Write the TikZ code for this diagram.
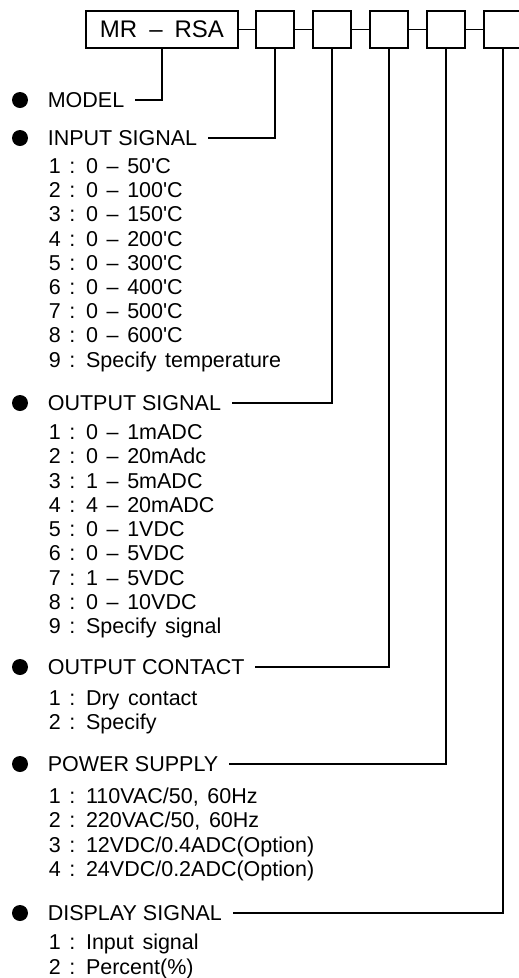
\documentclass[tikz,border=0pt]{standalone}
\usepackage{fontspec}
\setmainfont{Liberation Sans}
\newfontfamily\listfont[WordSpace=1.45]{Liberation Sans}
\begin{document}
\begin{tikzpicture}[x=1pt, y=-1pt, line width=1.6pt, every node/.style={font=\fontsize{21.5pt}{24pt}\selectfont}]
\tikzset{
  codebox/.style={draw, minimum width=152pt, minimum height=37pt, inner sep=0pt, font=\fontsize{24pt}{26pt}\selectfont},
  digitbox/.style={draw, minimum width=38pt, minimum height=37pt, inner sep=0pt},
  bullet/.style={circle, fill, minimum size=16pt, inner sep=0pt},
  heading/.style={anchor=west, inner sep=0pt, text height=15.4pt, text depth=0pt},
  choice/.style={anchor=west, inner sep=0pt, text height=15.4pt, text depth=0pt,
    font=\listfont\fontsize{21.5pt}{24pt}\selectfont}
}
\useasboundingbox (0,0) rectangle (519,978);
\node[codebox] (model_box) at (162,29.5) {MR\hspace{0.5em}–\hspace{0.5em}RSA};
\node[digitbox] (box_in) at (275,29.5) {};
\node[digitbox] (box_out) at (332,29.5) {};
\node[digitbox] (box_contact) at (389,29.5) {};
\node[digitbox] (box_power) at (446,29.5) {};
\node[digitbox] (box_display) at (503,29.5) {};
\draw (model_box) -- (box_in);
\draw (box_in) -- (box_out);
\draw (box_out) -- (box_contact);
\draw (box_contact) -- (box_power);
\draw (box_power) -- (box_display);

\node[bullet] (dot_model) at (20,100) {};
\node[heading] (model) at (47,100) {MODEL};
\draw (model_box.south) |- ([xshift=10pt]model.east);

\node[bullet] (dot_in) at (20,138) {};
\node[heading] (sig_in) at (47,138) {INPUT SIGNAL};
\node[choice] (in_1) at (48,166) {1 : 0 – 50\textquotesingle C};
\node[choice] (in_2) at (48,190) {2 : 0 – 100\textquotesingle C};
\node[choice] (in_3) at (48,214) {3 : 0 – 150\textquotesingle C};
\node[choice] (in_4) at (48,239) {4 : 0 – 200\textquotesingle C};
\node[choice] (in_5) at (48,263) {5 : 0 – 300\textquotesingle C};
\node[choice] (in_6) at (48,287) {6 : 0 – 400\textquotesingle C};
\node[choice] (in_7) at (48,311) {7 : 0 – 500\textquotesingle C};
\node[choice] (in_8) at (48,335) {8 : 0 – 600\textquotesingle C};
\node[choice] (in_9) at (48,360) {9 : Specify temperature};
\draw (box_in.south) |- ([xshift=10pt]sig_in.east);

\node[bullet] (dot_out) at (20,403) {};
\node[heading] (sig_out) at (47,403) {OUTPUT SIGNAL};
\node[choice] (out_1) at (48,432) {1 : 0 – 1mADC};
\node[choice] (out_2) at (48,456) {2 : 0 – 20mAdc};
\node[choice] (out_3) at (48,481) {3 : 1 – 5mADC};
\node[choice] (out_4) at (48,505) {4 : 4 – 20mADC};
\node[choice] (out_5) at (48,529) {5 : 0 – 1VDC};
\node[choice] (out_6) at (48,553) {6 : 0 – 5VDC};
\node[choice] (out_7) at (48,578) {7 : 1 – 5VDC};
\node[choice] (out_8) at (48,602) {8 : 0 – 10VDC};
\node[choice] (out_9) at (48,626) {9 : Specify signal};
\draw (box_out.south) |- ([xshift=10pt]sig_out.east);

\node[bullet] (dot_contact) at (20,667) {};
\node[heading] (contact) at (47,667) {OUTPUT CONTACT};
\node[choice] (contact_1) at (48,698) {1 : Dry contact};
\node[choice] (contact_2) at (48,722) {2 : Specify};
\draw (box_contact.south) |- ([xshift=10pt]contact.east);

\node[bullet] (dot_power) at (20,764) {};
\node[heading] (power) at (47,764) {POWER SUPPLY};
\node[choice] (power_1) at (48,796) {1 : 110VAC/50, 60Hz};
\node[choice] (power_2) at (48,820) {2 : 220VAC/50, 60Hz};
\node[choice] (power_3) at (48,845) {3 : 12VDC/0.4ADC(Option)};
\node[choice] (power_4) at (48,869) {4 : 24VDC/0.2ADC(Option)};
\draw (box_power.south) |- ([xshift=10pt]power.east);

\node[bullet] (dot_display) at (20,913) {};
\node[heading] (display) at (47,913) {DISPLAY SIGNAL};
\node[choice] (display_1) at (48,942) {1 : Input signal};
\node[choice] (display_2) at (48,967) {2 : Percent(\%)};
\draw (box_display.south) |- ([xshift=10pt]display.east);
\end{tikzpicture}
\end{document}
